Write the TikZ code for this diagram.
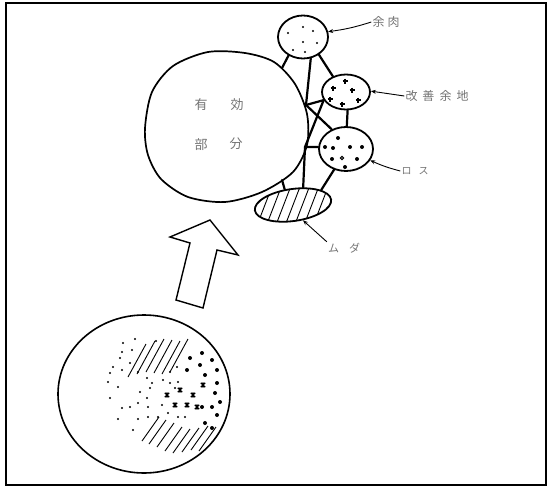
\documentclass[tikz,border=0pt]{standalone}
\usepackage{fontspec}
\newfontfamily\jpfont{Noto Sans CJK JP}
\usetikzlibrary{shapes.geometric,arrows.meta}
\begin{document}
\begin{tikzpicture}[x=1pt,y=-1pt,
  blob/.style={draw,ellipse,line width=1.8pt,inner sep=0pt},
  conn/.style={line width=2.2pt,line cap=round},
  lead/.style={line width=0.9pt,-{Stealth[length=5pt,width=4pt]}},
  lbl/.style={text=black!55,inner sep=1pt},
  hatchline/.style={line width=0.9pt}]
\useasboundingbox (0,0) rectangle (551,487);
\draw[line width=1.8pt] (6,3) rectangle (546,485);

% big "effective part" shape
\draw[line width=1.7pt] plot[smooth cycle] coordinates {(145,128) (152,92) (173,66) (208,52) (245,53) (274,62) (295,84) (307,114) (307,145) (293,172) (262,192) (225,202) (188,197) (161,179) (148,155)};
\node[lbl,font=\jpfont\fontsize{13}{13}\selectfont] (t1) at (201,105) {有};
\node[lbl,font=\jpfont\fontsize{13}{13}\selectfont] (t2) at (237,105) {効};
\node[lbl,font=\jpfont\fontsize{13}{13}\selectfont] (t3) at (201,145) {部};
\node[lbl,font=\jpfont\fontsize{13}{13}\selectfont] (t4) at (236,144) {分};

% small parts
\node[blob,minimum width=50,minimum height=43] (yn) at (303,37) {};
\node[blob,minimum width=48,minimum height=35] (kz) at (346,92) {};
\node[blob,minimum width=54,minimum height=44] (ls) at (346,149) {};
\begin{scope}[shift={(293,205)},rotate=8]
  \clip (0,0) ellipse [x radius=38.5, y radius=16];
  \foreach \i in {-40,-30,...,40} \draw[hatchline] (\i-10,18) -- (\i+10,-18);
\end{scope}
\node[blob,minimum width=77,minimum height=32,rotate=8] (md) at (293,205) {};

% fill marks
\foreach \p in {(288,33),(303,27),(313,31),(303,42),(317,43),(293,50),(305,52)}
  \fill \p circle[radius=1.1];
\foreach \p in {(345,81),(333,88),(352,90),(330,99),(342,104),(358,100)}
  \draw[line width=1.3pt] \p +(-2.5,0) -- +(2.5,0) \p +(0,-2.5) -- +(0,2.5);
\foreach \p in {(338,138),(325,147),(333,148),(350,147),(362,147),(332,159),(357,159),(345,167)}
  \fill \p circle[radius=2];
\draw[line width=1pt] (342,158) circle[radius=1.7];

% junctions on big shape
\coordinate (b1) at (282,68);
\coordinate (j1) at (306,105);
\coordinate (j2) at (305,147);
\coordinate (b2) at (282,180);

% connectors
\draw[conn] (b1) -- (yn.232);
\draw[conn] (yn.-70) -- (j1);
\draw[conn] (yn.-48) -- (kz.130);
\draw[conn] (j1) -- (kz.200);
\draw[conn] (j1) -- (ls.126);
\draw[conn] (kz.200) -- (j2) -- (md.52);
\draw[conn] (j2) -- (ls.176);
\draw[conn] (kz.-85) -- (ls.88);
\draw[conn] (b2) -- (md.110);
\draw[conn] (ls.-120) -- (md.20);

% labels with leaders
\node[lbl,font=\jpfont\fontsize{12}{12}\selectfont] (ynt) at (386,22) {余\hspace{3pt}肉};
\node[lbl,font=\jpfont\fontsize{12}{12}\selectfont] (kzt) at (437,96) {改\hspace{5pt}善\hspace{5pt}余\hspace{5pt}地};
\node[lbl,font=\jpfont\fontsize{10}{10}\selectfont] (lst) at (415,171) {ロ\hspace{7pt}ス};
\node[lbl,font=\jpfont\fontsize{11}{11}\selectfont] (mdt) at (344,248) {ム\hspace{10pt}ダ};
\draw[lead] (ynt.west) to[bend left=5] (yn.12);
\draw[lead] (kzt.west) -- (kz.2);
\draw[lead] (lst.west) to[bend left=5] (ls.-25);
\draw[lead] (mdt.north west) -- (md.-65);

% transformation arrow
\draw[line width=1.4pt,line join=miter] (210,220) -- (238,255) -- (217,250) -- (203,308) -- (176,300) -- (190,243) -- (170,237) -- cycle;

% original mixed part
\node[draw,ellipse,line width=1.6pt,minimum width=172,minimum height=158] (bc) at (144,394) {};
\foreach \p in {(123,343),(135,339),(156,341),(122,352),(132,350),(120,358),(130,363),(113,367),(122,370),(110,373),(138,372),(147,378),(108,382),(118,387),(152,383),(163,380),(170,383),(178,382),(140,392),(110,398),(147,398),(122,408),(130,407),(138,403),(148,407),(162,405),(118,419),(138,419),(148,417),(158,417),(168,413),(178,417),(185,417),(133,430),(175,388),(177,367),(150,388),(170,372)}
  \fill \p circle[radius=1.1];
\foreach \a/\b in {128/377,137/374,146/372,154/373,162/374,170/372}
  \draw[hatchline] (\a,\b) -- ++(18,-33);
\foreach \a/\b in {142/441,149/444,157/447,165/451,173/453,182/452,191/450,199/451}
  \draw[hatchline] (\a,\b) -- ++(17,-24);
\foreach \p in {(190,358),(202,353),(212,360),(187,370),(200,365),(217,370),(205,375),(217,383),(215,393),(220,402),(202,407),(212,407),(217,415),(205,423),(212,428)}
  \fill \p circle[radius=2];
\foreach \p in {(167,395),(180,390),(193,395),(175,405),(187,405),(197,407),(203,385)}
  \draw[line width=1.1pt] \p +(-2.2,-2.2) -- +(2.2,2.2) \p +(-2.2,2.2) -- +(2.2,-2.2) \p +(0,-2.6) -- +(0,2.6);
\end{tikzpicture}
\end{document}
